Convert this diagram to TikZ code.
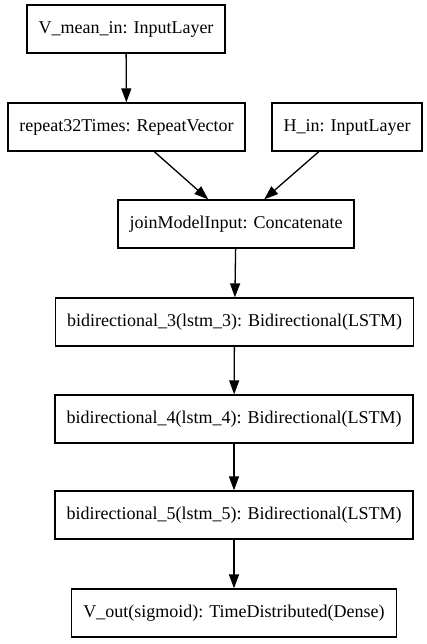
\documentclass[tikz,border=0pt]{standalone}
\usepackage{fontspec}
\setmainfont{Liberation Serif}
\usepackage{tikz}
\usetikzlibrary{arrows.meta}

\begin{document}
\begin{tikzpicture}[x=1pt,y=-1pt,
    layer/.style={draw=black,line width=1.3pt,minimum height=48pt,inner xsep=11.5pt,
      font=\rmfamily\fontsize{18}{21}\selectfont},
    flow/.style={draw=black,line width=1.3pt,-{Triangle[length=14pt,width=10pt]}}]
  \useasboundingbox (0,0) rectangle (426,644);
  \node[layer] (vmean) at (126,29) {V\_mean\_in: InputLayer};
  \node[layer] (rep) at (126.5,127) {repeat32Times: RepeatVector};
  \node[layer] (hin) at (347,127) {H\_in: InputLayer};
  \node[layer] (join) at (236,224) {joinModelInput: Concatenate};
  \node[layer] (bi3) at (234.5,322) {bidirectional\_3(lstm\_3): Bidirectional(LSTM)};
  \node[layer] (bi4) at (234,419) {bidirectional\_4(lstm\_4): Bidirectional(LSTM)};
  \node[layer] (bi5) at (234,515) {bidirectional\_5(lstm\_5): Bidirectional(LSTM)};
  \node[layer] (vout) at (234,613) {V\_out(sigmoid): TimeDistributed(Dense)};
  \draw[flow] (vmean) -- (rep);
  \draw[flow] (rep) -- (join);
  \draw[flow] (hin) -- (join);
  \draw[flow] (join) -- (bi3);
  \draw[flow] (bi3) -- (bi4);
  \draw[flow] (bi4) -- (bi5);
  \draw[flow] (bi5) -- (vout);
\end{tikzpicture}
\end{document}
